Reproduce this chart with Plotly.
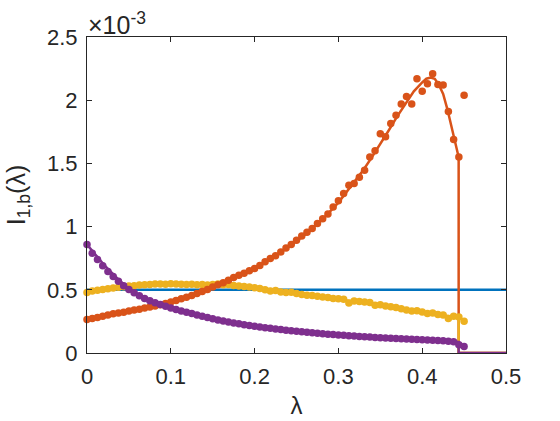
import numpy as np
import plotly.graph_objects as go

# lambda grid of the simulation points
lam = np.round(np.arange(73) * 0.00625, 5)

# simulated points (units of 1e-3)
orange_pts = [0.265, 0.272, 0.281, 0.290, 0.300, 0.310, 0.316, 0.323, 0.332, 0.340,
              0.347, 0.356, 0.364, 0.372, 0.381, 0.392, 0.403, 0.415, 0.430, 0.442,
              0.455, 0.470, 0.487, 0.503, 0.522, 0.540, 0.556, 0.575, 0.597, 0.615,
              0.630, 0.650, 0.668, 0.692, 0.721, 0.747, 0.770, 0.799, 0.830, 0.858,
              0.892, 0.925, 0.955, 0.984, 1.025, 1.063, 1.100, 1.155, 1.205, 1.261,
              1.327, 1.340, 1.390, 1.445, 1.550, 1.600, 1.735, 1.710, 1.815, 1.880,
              1.970, 2.030, 1.970, 2.170, 2.070, 2.130, 2.210, 2.125, 2.120, 1.910,
              1.690, 1.550, 2.040]
yellow_pts = [0.478, 0.490, 0.497, 0.503, 0.508, 0.515, 0.520, 0.524, 0.530, 0.533,
              0.537, 0.540, 0.541, 0.545, 0.546, 0.543, 0.547, 0.545, 0.544, 0.541,
              0.543, 0.539, 0.541, 0.538, 0.541, 0.545, 0.540, 0.541, 0.535, 0.530,
              0.527, 0.522, 0.517, 0.510, 0.500, 0.491, 0.495, 0.483, 0.478, 0.481,
              0.470, 0.462, 0.457, 0.455, 0.448, 0.443, 0.440, 0.432, 0.430, 0.426,
              0.396, 0.411, 0.408, 0.404, 0.399, 0.377, 0.382, 0.372, 0.365, 0.359,
              0.350, 0.340, 0.332, 0.335, 0.325, 0.312, 0.316, 0.304, 0.300, 0.272,
              0.290, 0.285, 0.251]
purple_pts = [0.858, 0.790, 0.740, 0.690, 0.645, 0.605, 0.567, 0.533, 0.503, 0.477,
              0.453, 0.432, 0.414, 0.398, 0.383, 0.369, 0.356, 0.344, 0.333, 0.322,
              0.312, 0.300, 0.290, 0.280, 0.270, 0.262, 0.253, 0.245, 0.238, 0.231,
              0.224, 0.218, 0.212, 0.206, 0.200, 0.195, 0.190, 0.185, 0.180, 0.176,
              0.172, 0.168, 0.164, 0.160, 0.156, 0.152, 0.149, 0.146, 0.143, 0.140,
              0.137, 0.134, 0.131, 0.128, 0.126, 0.123, 0.121, 0.119, 0.117, 0.115,
              0.113, 0.110, 0.108, 0.106, 0.104, 0.102, 0.100, 0.098, 0.096, 0.093,
              0.089, 0.066, 0.052]

# theory curves (units of 1e-3)
blue_x = [0.0, 0.5]
blue_y = [0.5, 0.5]

orange_x = [0, 0.02, 0.04, 0.06, 0.08, 0.10, 0.12, 0.14, 0.16, 0.18, 0.20, 0.22, 0.24,
            0.26, 0.28, 0.30, 0.32, 0.33, 0.34, 0.35, 0.36, 0.37, 0.38, 0.39, 0.40,
            0.405, 0.41, 0.415, 0.42, 0.425, 0.43, 0.435, 0.44, 0.4435, 0.4435, 0.5]
orange_y = [0.265, 0.29, 0.318, 0.345, 0.372, 0.405, 0.445, 0.495, 0.55, 0.61, 0.675,
            0.75, 0.835, 0.935, 1.05, 1.19, 1.36, 1.45, 1.55, 1.65, 1.76, 1.87, 1.97,
            2.07, 2.14, 2.17, 2.18, 2.17, 2.12, 2.05, 1.93, 1.78, 1.64, 1.55, 0.0, 0.0]

yellow_x = [0, 0.05, 0.1, 0.15, 0.2, 0.25, 0.3, 0.35, 0.4, 0.4435, 0.4435, 0.5]
yellow_y = [0.478, 0.525, 0.543, 0.54, 0.515, 0.465, 0.425, 0.375, 0.32, 0.28, 0.0, 0.0]

purple_x = [0, 0.02, 0.04, 0.06, 0.08, 0.1, 0.15, 0.2, 0.25, 0.3, 0.35, 0.4, 0.4435,
            0.4435, 0.5]
purple_y = [0.858, 0.70, 0.565, 0.465, 0.40, 0.356, 0.27, 0.212, 0.172, 0.143, 0.121,
            0.104, 0.088, 0.0, 0.0]

x_ticks = [0, 0.1, 0.2, 0.3, 0.4, 0.5]
x_labels = ["0", "0.1", "0.2", "0.3", "0.4", "0.5"]
y_ticks = [0, 0.5, 1, 1.5, 2, 2.5]
y_labels = ["0", "0.5", "1", "1.5", "2", "2.5"]

BLUE = "#0072BD"
ORANGE = "#D95319"
YELLOW = "#EDB120"
PURPLE = "#7E2F8E"
AXC = "#262626"
FONT = "Liberation Sans"

fig = go.Figure()
for xs, ys, c in [(blue_x, blue_y, BLUE), (orange_x, orange_y, ORANGE),
                  (yellow_x, yellow_y, YELLOW), (purple_x, purple_y, PURPLE)]:
    fig.add_trace(go.Scatter(x=xs, y=ys, mode="lines", line=dict(color=c, width=2.5),
                             showlegend=False, hoverinfo="skip"))
for ys, c in [(yellow_pts, YELLOW), (orange_pts, ORANGE), (purple_pts, PURPLE)]:
    fig.add_trace(go.Scatter(x=lam, y=ys, mode="markers",
                             marker=dict(color=c, size=7.5, line=dict(width=0)),
                             cliponaxis=False, showlegend=False, hoverinfo="skip"))

axis_common = dict(showline=True, linecolor=AXC, linewidth=1, mirror="ticks",
                   ticks="inside", ticklen=5, tickwidth=1, tickcolor=AXC,
                   showgrid=False, zeroline=False, automargin=False,
                   tickfont=dict(family=FONT, size=22, color=AXC))

fig.update_xaxes(range=[0, 0.5], tickvals=x_ticks, ticktext=x_labels,
                 ticklabelstandoff=4,
                 title=dict(text="λ", font=dict(family=FONT, size=24, color=AXC), standoff=8),
                 **axis_common)
fig.update_yaxes(range=[0, 2.5], tickvals=y_ticks, ticktext=y_labels,
                 ticklabelstandoff=4,
                 title=dict(text="I<sub>1,b</sub>(λ)", font=dict(family=FONT, size=25, color=AXC), standoff=14),
                 **axis_common)

fig.update_layout(
    width=560, height=421, margin=dict(l=87, r=54, t=37, b=68),
    plot_bgcolor="white", paper_bgcolor="white",
    title=dict(text="×10<sup>-3</sup>", x=0, xref="paper", xanchor="left",
               y=1, yref="paper", yanchor="bottom", pad=dict(b=3, l=1),
               font=dict(family=FONT, size=25, color=AXC)),
)
fig.write_html("out.html")
